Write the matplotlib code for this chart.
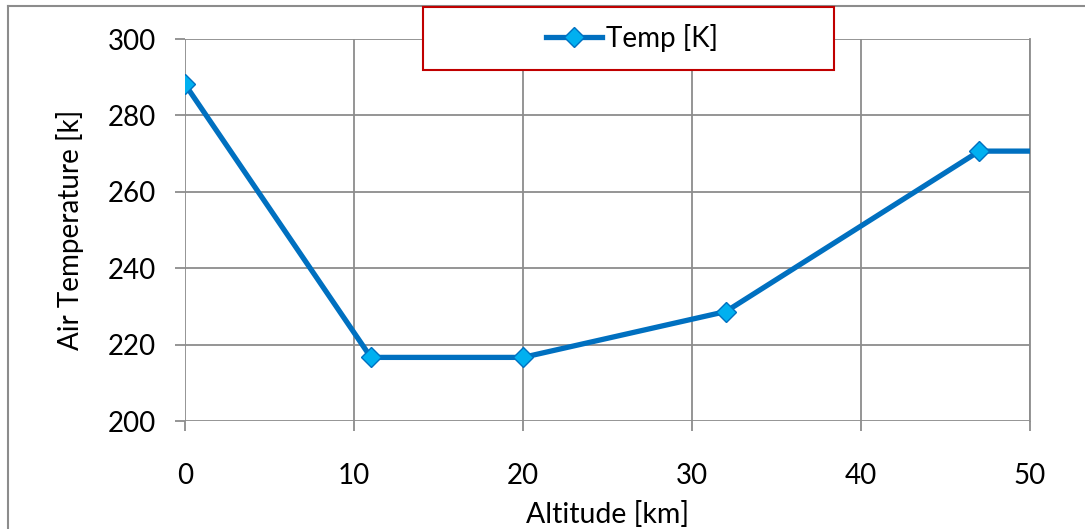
import matplotlib
matplotlib.use("Agg")
import matplotlib.pyplot as plt
from matplotlib.patches import Rectangle
from matplotlib.lines import Line2D

# === Standard atmosphere, lower layers ===
altitude_km = [0, 11, 20, 32, 47, 51]
temp_k = [288.15, 216.65, 216.65, 228.65, 270.65, 270.65]
x_ticks = [0, 10, 20, 30, 40, 50]
y_ticks = [200, 220, 240, 260, 280, 300]

plt.rcParams['font.family'] = ['Lato', 'DejaVu Sans']
W, H = 1085, 529
fig = plt.figure(figsize=(W / 100, H / 100), dpi=100)
ax = fig.add_axes([185 / W, 1 - 421 / H, (1030 - 185) / W, (421 - 39) / H])

grid_c = '#8c8c8c'
ax.plot(altitude_km, temp_k, color='#0070C0', lw=3.8, marker='D',
        markersize=10.5, markerfacecolor='#00B0F0', markeredgecolor='#0070C0',
        markeredgewidth=1.0, zorder=3)

ax.set_xlim(0, 50)
ax.set_ylim(200, 300)
ax.set_xticks(x_ticks)
ax.set_yticks(y_ticks)
ax.grid(True, color=grid_c, lw=1.3)
ax.set_axisbelow(True)
for s in ax.spines.values():
    s.set_visible(False)
ax.spines['right'].set_visible(True)
ax.spines['right'].set_color(grid_c)
ax.spines['right'].set_linewidth(1.3)
ax.tick_params(axis='both', length=7, width=1.3, color=grid_c,
               labelsize=20, pad=14)
ax.tick_params(axis='x', pad=23)

ax.set_xlabel('Altitude [km]', fontsize=20.5, labelpad=9)
ax.set_ylabel('Air Temperature [k]', fontsize=20, labelpad=17)

# outer chart border (left and top edges only visible)
fig.add_artist(Line2D([8 / W, 8 / W], [0, 1 - 6 / H], color=grid_c,
                      lw=1.5, transform=fig.transFigure))
fig.add_artist(Line2D([8 / W, 1], [1 - 6 / H, 1 - 6 / H], color=grid_c,
                      lw=1.5, transform=fig.transFigure))

# legend box
fig.add_artist(Rectangle((423 / W, 1 - 70 / H), (834 - 423) / W, (70 - 7) / H,
                         transform=fig.transFigure, facecolor='white',
                         edgecolor='#C00000', lw=1.5, zorder=4))
handle = Line2D([], [], color='#0070C0', lw=3.8, marker='D', markersize=10.5,
                markerfacecolor='#00B0F0', markeredgecolor='#0070C0')
fig.legend([handle], ['Temp [K]'], loc='center',
           bbox_to_anchor=(632 / W, 1 - 38 / H), frameon=False,
           fontsize=20, handlelength=2.0, handletextpad=0.15).set_zorder(5)

fig.savefig('out.png', dpi=100)
